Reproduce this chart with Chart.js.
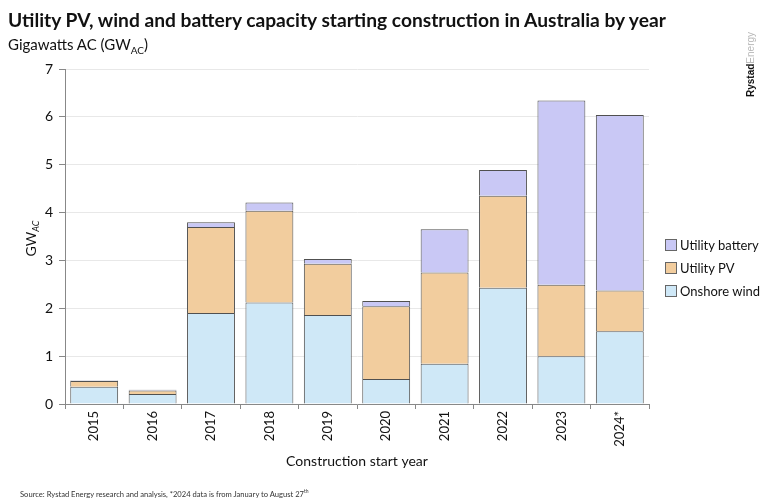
<!DOCTYPE html>
<html>
<head>
<meta charset="utf-8">
<script src="https://cdn.jsdelivr.net/npm/chart.js@4"></script>
<style>
  body { margin: 0; background: #fff; font-family: Lato, sans-serif; color: #111; }
  #wrap { position: relative; width: 762px; height: 500px; overflow: hidden; }
  #chart { position: absolute; left: 0; top: 0; }
  .title { position: absolute; left: 8px; top: 8px; font-size: 19.2px; font-weight: bold; white-space: nowrap; }
  .sub { position: absolute; left: 8px; top: 35px; font-size: 15px; white-space: nowrap; }
  .sub sub { font-size: 10px; }
  .brand { position: absolute; left: 745px; top: 97px; transform-origin: 0 0; transform: rotate(-90deg);
           font-family: "Liberation Sans", sans-serif; font-size: 10px; font-weight: bold; white-space: nowrap; }
  .brand span { color: #b8b8b8; font-weight: normal; }
  .source { position: absolute; left: 20px; top: 488px; font-size: 7.6px; color: #333; white-space: nowrap; }
  .source sup { font-size: 5px; }
  #legend { position: absolute; left: 665px; top: 236px; font-size: 13px; }
  #legend div { height: 23px; line-height: 18px; white-space: nowrap; }
  #legend i { display: inline-block; width: 10px; height: 10px; border: 1px solid #666; margin-right: 3px; vertical-align: -1px; }
</style>
</head>
<body>
<div id="wrap">
  <canvas id="chart" width="762" height="500"></canvas>
  <div class="title">Utility PV, wind and battery capacity starting construction in Australia by year</div>
  <div class="sub">Gigawatts AC (GW<sub>AC</sub>)</div>
  <div class="brand">Rystad<span>Energy</span></div>
  <div id="legend"></div>
  <div class="source">Source: Rystad Energy research and analysis, *2024 data is from January to August 27<sup>th</sup></div>
</div>
<script>
// Categories and stacked values (GW AC)
const years = ['2015', '2016', '2017', '2018', '2019', '2020', '2021', '2022', '2023', '2024*'];
const onshoreWind = [0.36, 0.21, 1.90, 2.12, 1.86, 0.52, 0.84, 2.43, 1.00, 1.52];
const utilityPV = [0.12, 0.07, 1.80, 1.92, 1.07, 1.52, 1.91, 1.92, 1.49, 0.85];
const utilityBattery = [0.01, 0.02, 0.10, 0.17, 0.10, 0.11, 0.90, 0.54, 3.85, 3.67];
const yTicks = [0, 1, 2, 3, 4, 5, 6, 7];

const seriesNames = ['Onshore wind', 'Utility PV', 'Utility battery'];
const seriesColors = ['#cfe8f7', '#f2cd9e', '#c9c8f5'];

// y axis title with subscript, drawn beside the axis
const yTitle = {
  id: 'yTitle',
  afterDraw(chart) {
    const ctx = chart.ctx;
    const area = chart.chartArea;
    ctx.save();
    ctx.translate(36, (area.top + area.bottom) / 2 + 2);
    ctx.rotate(-Math.PI / 2);
    ctx.fillStyle = '#111';
    ctx.textBaseline = 'alphabetic';
    ctx.font = '14px Lato';
    const w1 = ctx.measureText('GW').width;
    ctx.font = 'italic 9px Lato';
    const w2 = ctx.measureText('AC').width;
    const x0 = -(w1 + w2) / 2;
    ctx.font = '14px Lato';
    ctx.fillText('GW', x0, 0);
    ctx.font = 'italic 9px Lato';
    ctx.fillText('AC', x0 + w1, 3);
    ctx.restore();
  }
};

const chart = new Chart(document.getElementById('chart').getContext('2d'), {
  type: 'bar',
  data: {
    labels: years,
    datasets: [onshoreWind, utilityPV, utilityBattery].map((d, i) => ({
      label: seriesNames[i],
      data: d,
      backgroundColor: seriesColors[i],
      borderColor: '#505050',
      borderWidth: 1,
      barPercentage: 0.82,
      categoryPercentage: 1.0
    }))
  },
  options: {
    responsive: false,
    animation: false,
    layout: { padding: { top: 69, right: 113, left: 0, bottom: 30 } },
    plugins: {
      legend: { display: false },
      tooltip: { enabled: false }
    },
    scales: {
      x: {
        stacked: true,
        afterFit(scale) { scale.height = 66; },
        grid: { offset: true, drawOnChartArea: false, drawTicks: true, tickLength: 5, tickColor: '#888' },
        border: { color: '#888' },
        ticks: { minRotation: 90, maxRotation: 90, color: '#111', font: { family: 'Lato', size: 13 }, padding: 2 },
        title: { display: true, text: 'Construction start year', color: '#111', font: { family: 'Lato', size: 14 }, padding: { top: 4, bottom: 0 } }
      },
      y: {
        stacked: true,
        min: 0,
        max: 7,
        afterFit(scale) { scale.width = 65; },
        afterBuildTicks(scale) { scale.ticks = yTicks.map(v => ({ value: v })); },
        grid: { color: '#e8e8e8', tickColor: '#888', tickLength: 6 },
        border: { color: '#888' },
        ticks: { color: '#111', font: { family: 'Lato', size: 14 }, padding: 6 }
      }
    }
  },
  plugins: [yTitle]
});

// legend, battery on top as in the reference
const legend = document.getElementById('legend');
[2, 1, 0].forEach(i => {
  const row = document.createElement('div');
  row.innerHTML = '<i style="background:' + seriesColors[i] + '"></i>' + seriesNames[i];
  legend.appendChild(row);
});
</script>
</body>
</html>
